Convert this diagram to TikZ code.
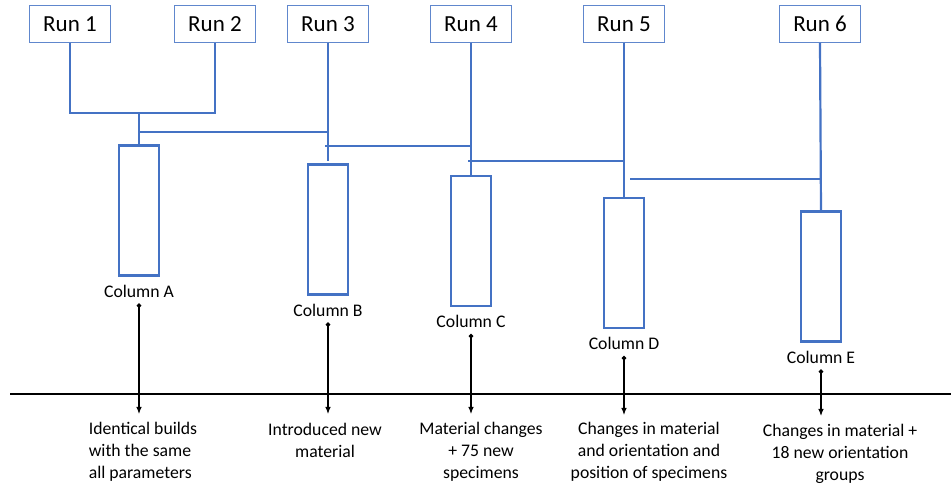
\documentclass[tikz,border=0pt]{standalone}
\usepackage{fontspec}
\setmainfont{Carlito}
\usepackage{tikz}
\usetikzlibrary{positioning}
\usetikzlibrary{arrows.meta}

\definecolor{runblue}{HTML}{4472C4}

\begin{document}
\begin{tikzpicture}[
        x=1pt, y=-1pt,
        run/.style={draw=runblue!85, line width=1pt, rectangle, minimum width=81pt,
                    minimum height=37pt, inner sep=0pt,
                    font=\fontsize{23}{28}\selectfont},
        column/.style={draw=runblue, line width=2.2pt, rectangle, minimum width=40pt,
                       minimum height=130pt, inner sep=0pt},
        collabel/.style={inner sep=0pt, font=\fontsize{17.7}{21.6}\selectfont},
        desc/.style={inner sep=0pt, anchor=north, align=center,
                     font=\fontsize{17.7}{21.8}\selectfont},
        link/.style={runblue, line width=2.2pt},
        pointer/.style={{Circle[length=4.5pt]}-{Latex[length=7pt,width=5.5pt]}, line width=1.1pt},
        timeline/.style={line width=2.6pt}
    ]
        \useasboundingbox (0,0) rectangle (951,486);

        % runs
        \node[run] (r1) at (70,24) {Run 1};
        \node[run] (r2) at (215,24) {Run 2};
        \node[run] (r3) at (328,24) {Run 3};
        \node[run] (r4) at (471,24) {Run 4};
        \node[run] (r5) at (624,24) {Run 5};
        \node[run] (r6) at (820,24) {Run 6};

        % columns
        \node[column] (colA) at (139,210.5) {};
        \node[column] (colB) at (328,229.5) {};
        \node[column] (colC) at (471,241) {};
        \node[column] (colD) at (624,263) {};
        \node[column] (colE) at (821,276.5) {};

        \node[collabel, below=8pt of colA] (lblA) {Column A};
        \node[collabel, below=8pt of colB] (lblB) {Column B};
        \node[collabel, below=8pt of colC] (lblC) {Column C};
        \node[collabel, below=8pt of colD] (lblD) {Column D};
        \node[collabel, below=8pt of colE] (lblE) {Column E};

        % junctions
        \coordinate (j12) at (139,113);
        \coordinate (jA) at (139,132);
        \coordinate (jB) at (325,146);
        \coordinate (jC) at (468,161);
        \coordinate (jD) at (630,179);

        \draw[link] (r1.south) |- (j12) -| (r2.south);
        \draw[link] (j12) -- (colA.north);
        \draw[link] (jA) -- (jA -| r3);
        \draw[link] (r3.south) -- ([yshift=2pt]colB.north);
        \draw[link] (jB) -- (jB -| r4);
        \draw[link] (r4.south) -- (colC.north);
        \draw[link] (jC) -- (jC -| r5);
        \draw[link] (r5.south) -- (colD.north);
        \draw[link] (jD) -- (jD -| r6);
        \draw[link] (r6.south) -- (colE.north);

        % timeline
        \coordinate (t0) at (10,394);
        \coordinate (t1) at (951,394);
        \draw[timeline] (t0) -- (t1);

        % descriptions
        \node[desc, align=left] (dA) at (143,422) {Identical builds\\with the same\\all parameters};
        \node[desc] (dB) at (325,423) {Introduced new\\material};
        \node[desc] (dC) at (481,422) {Material changes\\+ 75 new\\specimens};
        \node[desc] (dD) at (649,422) {Changes in material\\and orientation and\\position of specimens};
        \node[desc] (dE) at (840,424) {Changes in material +\\18 new orientation\\groups};

        \draw[pointer] ([yshift=-6pt]lblA.south) -- ([yshift=8pt]lblA.south |- dA.north);
        \draw[pointer] ([yshift=-6pt]lblB.south) -- ([yshift=9pt]lblB.south |- dB.north);
        \draw[pointer] ([yshift=-6pt]lblC.south) -- ([yshift=8pt]lblC.south |- dC.north);
        \draw[pointer] ([yshift=-6pt]lblD.south) -- ([yshift=7pt]lblD.south |- dD.north);
        \draw[pointer] ([yshift=-6pt]lblE.south) -- ([yshift=8pt]lblE.south |- dE.north);
    \end{tikzpicture}
\end{document}
